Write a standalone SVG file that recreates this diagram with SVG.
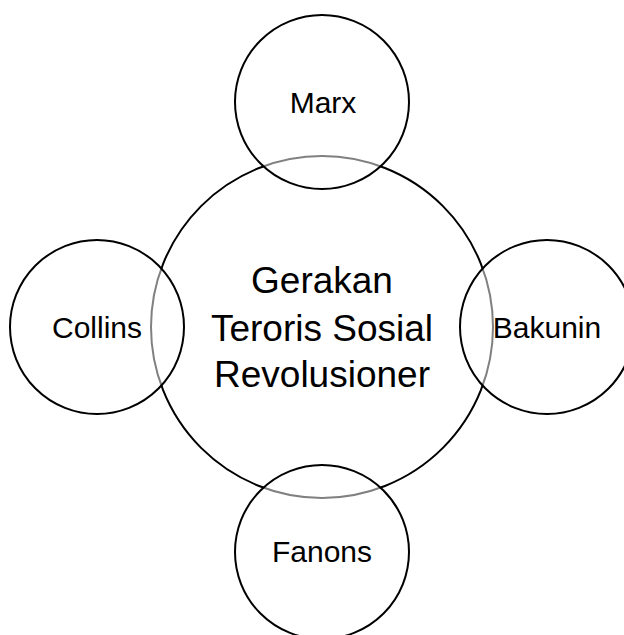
<svg xmlns="http://www.w3.org/2000/svg" width="624" height="635" viewBox="0 0 624 635">
  <style>
    .hub { fill: #ffffff; stroke: #000000; stroke-width: 2; }
    .sat { fill: #ffffff; fill-opacity: 0.5; stroke: #000000; stroke-width: 2; }
    .label { font-family: "Liberation Sans", Arial, sans-serif; fill: #000000; text-anchor: middle; }
    .big { font-size: 37px; }
    .small { font-size: 30px; }
  </style>
  <rect width="624" height="635" fill="#ffffff"/>
  <g id="connectors"></g>
  <g id="center">
    <circle class="hub" cx="322" cy="327" r="171"/>
    <text class="label big" x="322" y="293">Gerakan</text>
    <text class="label big" x="322" y="341">Teroris Sosial</text>
    <text class="label big" x="322" y="387">Revolusioner</text>
  </g>
  <g id="marx">
    <circle class="sat" cx="322" cy="102" r="87"/>
    <text class="label small" x="323" y="113">Marx</text>
  </g>
  <g id="collins">
    <circle class="sat" cx="97" cy="327" r="87"/>
    <text class="label small" x="97" y="338">Collins</text>
  </g>
  <g id="bakunin">
    <circle class="sat" cx="547" cy="327" r="87"/>
    <text class="label small" x="547" y="338">Bakunin</text>
  </g>
  <g id="fanons">
    <circle class="sat" cx="322" cy="552" r="87"/>
    <text class="label small" x="322" y="562">Fanons</text>
  </g>
</svg>
